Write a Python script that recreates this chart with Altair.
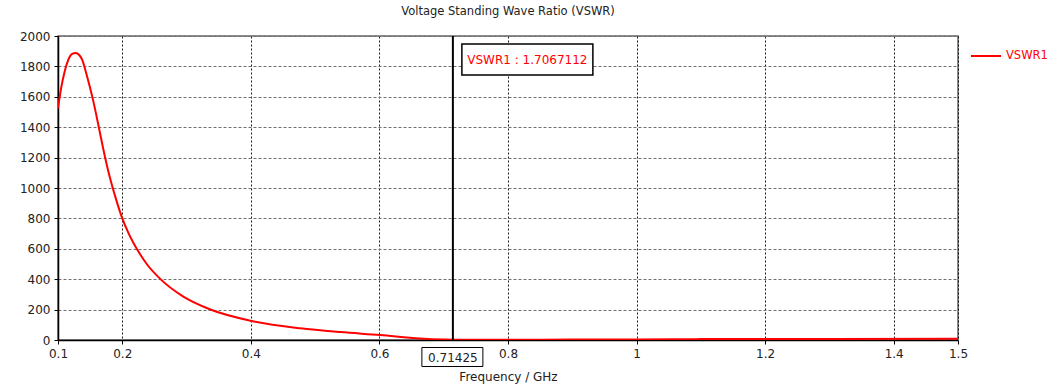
import altair as alt
import pandas as pd

# VSWR trace (frequency in GHz, ratio)
freq = [0.100, 0.105, 0.110, 0.114, 0.118, 0.122, 0.1275, 0.133, 0.138, 0.142,
        0.148, 0.155, 0.163, 0.170, 0.180, 0.190, 0.200, 0.210, 0.217, 0.228,
        0.238, 0.259, 0.295, 0.336, 0.399, 0.477, 0.540, 0.601, 0.663, 0.700,
        0.71425, 0.800, 0.900, 1.000, 1.085, 1.100, 1.300, 1.500]
vswr = [1524, 1660, 1760, 1820, 1862, 1882, 1888, 1875, 1840, 1785,
        1690, 1570, 1410, 1265, 1080, 930, 800, 700, 642, 562,
        500, 402, 285, 202, 127, 77, 52, 33, 10, 3.0,
        1.7067112, 1.8, 2.5, 3.5, 5.0, 6.5, 7.0, 8.0]

marker_freq = [0.71425]
marker_text = ["VSWR1 : 1.7067112"]
marker_freq_label = ["0.71425"]

x_ticks = [0.1, 0.2, 0.4, 0.6, 0.8, 1, 1.2, 1.4, 1.5]
y_ticks = list(range(0, 2001, 200))

font = "DejaVu Sans"
trace = pd.DataFrame({"freq": freq, "vswr": vswr, "series": "VSWR1"})
marker = pd.DataFrame({"freq": marker_freq, "label": marker_text, "flabel": marker_freq_label})

x_scale = alt.Scale(domain=[0.1, 1.5], nice=False, zero=False)
y_scale = alt.Scale(domain=[0, 2000], nice=False)

line = alt.Chart(trace).mark_line(strokeWidth=2, clip=True, interpolate="monotone").encode(
    x=alt.X("freq:Q", scale=x_scale, title="Frequency / GHz",
            axis=alt.Axis(values=x_ticks, labelExpr="datum.value + ''",
                          gridColor="#000000", gridDash=[2, 2], gridOpacity=0.9,
                          labelOverlap=False, labelFlush=False)),
    y=alt.Y("vswr:Q", scale=y_scale, title=None,
            axis=alt.Axis(values=y_ticks, format="d",
                          gridColor="#707070", gridDash=[3, 2])),
    color=alt.Color("series:N", scale=alt.Scale(range=["#ff0000"]), title=None,
                    legend=alt.Legend(orient="none", legendX=912, legendY=4,
                                      symbolType="stroke", symbolSize=900,
                                      symbolStrokeWidth=2, labelColor="#ff0000",
                                      labelFontSize=11.5, labelFont=font)),
)

x_m = alt.X("freq:Q", scale=x_scale)

# marker cursor across the plot
cursor = alt.Chart(marker).mark_rule(color="#000000", strokeWidth=2).encode(
    x=x_m, y=alt.value(0), y2=alt.value(304))

# marker readout box near the top
top_box = alt.Chart(marker).mark_rect(fill="white", stroke="#000000", strokeWidth=1.5,
                                      xOffset=9, x2Offset=140).encode(
    x=x_m, x2="freq:Q", y=alt.value(8), y2=alt.value(39))
top_text = alt.Chart(marker).mark_text(color="#ff0000", font=font, fontSize=12,
                                       dx=74.5).encode(
    x=x_m, y=alt.value(24), text="label:N")

# marker frequency box on the x axis
bottom_box = alt.Chart(marker).mark_rect(fill="white", stroke="#000000", strokeWidth=1,
                                         xOffset=-31, x2Offset=30).encode(
    x=x_m, x2="freq:Q", y=alt.value(311.5), y2=alt.value(330.5))
bottom_text = alt.Chart(marker).mark_text(color="#222222", font=font, fontSize=12).encode(
    x=x_m, y=alt.value(321.5), text="flabel:N")

chart = alt.layer(line, cursor, top_box, top_text, bottom_box, bottom_text).properties(
    width=900, height=304,
    autosize=alt.AutoSizeParams(type="none"),
    padding={"left": 58, "top": 36, "right": 103, "bottom": 47},
    title=alt.TitleParams("Voltage Standing Wave Ratio (VSWR)", font=font, fontSize=11.5,
                          fontWeight="normal", color="#222222", offset=13),
    background="white",
).configure_view(stroke="#666666", strokeWidth=1.5).configure_axis(
    domainColor="#000000", domainWidth=1.5, tickColor="#000000", tickSize=4,
    labelFont=font, labelFontSize=12, labelColor="#222222", labelPadding=4,
    titleFont=font, titleFontSize=12, titleColor="#222222", titleFontWeight="normal",
    titlePadding=12,
)

chart.save("out.html", embed_options={"renderer": "svg", "actions": False})
